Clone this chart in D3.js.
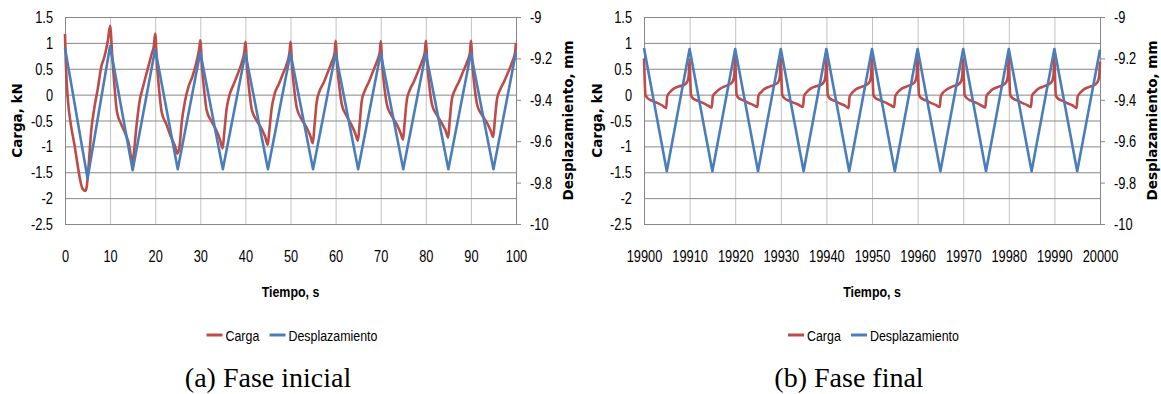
<!DOCTYPE html>
<html>
<head>
<meta charset="utf-8">
<script src="https://cdn.jsdelivr.net/npm/d3@7"></script>
<style>
  body { margin: 0; background: #fff; }
</style>
</head>
<body>
<svg id="chart" width="1161" height="394"></svg>
<script>
// ---- Data ----
const cargaTicks = [-2.5, -2, -1.5, -1, -0.5, 0, 0.5, 1, 1.5];
const despTicks = [-10, -9.8, -9.6, -9.4, -9.2, -9];
const tiempoTicksA = [0, 10, 20, 30, 40, 50, 60, 70, 80, 90, 100];
const tiempoTicksB = [19900, 19910, 19920, 19930, 19940, 19950, 19960, 19970, 19980, 19990, 20000];

// (a) Fase inicial - desplazamiento (mm, right axis)
const tDespA = [0, 5, 10, 15, 20, 25, 30, 35, 40, 45, 50, 55, 60, 65, 70, 75, 80, 85, 90, 95, 100];
const despA = [-9.15, -9.78, -9.14, -9.74, -9.155, -9.735, -9.17, -9.735, -9.175, -9.735, -9.175,
               -9.735, -9.175, -9.735, -9.175, -9.735, -9.175, -9.735, -9.175, -9.735, -9.17];

// (a) Fase inicial - carga (kN, left axis)
const tCargaA = [
  0, 0.2, 0.6, 1.3, 2.1, 2.8, 3.3, 3.9, 4.5, 4.8, 5.3, 5.8, 6.5, 7.3, 8.0, 8.8, 9.5,
  10, 10.5, 11, 11.5, 12.5, 13.5, 14.2, 14.7, 14.95, 15.3, 15.8, 16.6, 17.3, 18.2, 19.2, 19.7,
  20, 20.4, 20.9, 21.4, 22.5, 23.6, 24.4, 24.9, 25.4, 25.9, 26.6, 27.4, 28.3, 29.2, 29.8,
  30, 30.4, 30.9, 31.4, 32.5, 33.6, 34.4, 34.95, 35.3, 35.8, 36.5, 37.4, 38.3, 39.2, 39.8,
  40, 40.4, 40.9, 41.4, 42.5, 43.6, 44.4, 44.95, 45.3, 45.8, 46.5, 47.4, 48.3, 49.2, 49.8,
  50, 50.4, 50.9, 51.4, 52.5, 53.6, 54.4, 54.95, 55.3, 55.8, 56.5, 57.4, 58.3, 59.2, 59.8,
  60, 60.4, 60.9, 61.4, 62.5, 63.6, 64.4, 64.95, 65.3, 65.8, 66.5, 67.4, 68.3, 69.2, 69.8,
  70, 70.4, 70.9, 71.4, 72.5, 73.6, 74.4, 74.95, 75.3, 75.8, 76.5, 77.4, 78.3, 79.2, 79.8,
  80, 80.4, 80.9, 81.4, 82.5, 83.6, 84.4, 84.95, 85.3, 85.8, 86.5, 87.4, 88.3, 89.2, 89.8,
  90, 90.4, 90.9, 91.4, 92.5, 93.6, 94.4, 94.95, 95.3, 95.8, 96.5, 97.4, 98.3, 99.2, 99.8,
  100];
const cargaA = [
  1.17, 0.58, -0.06, -0.58, -0.97, -1.36, -1.62, -1.82, -1.86, -1.79, -1.3, -0.71, -0.26, 0.13, 0.52, 0.75, 1.04,
  1.33, 0.71, 0.13, -0.32, -0.58, -0.78, -0.97, -1.23, -1.3, -1.1, -0.65, -0.1, 0.15, 0.45, 0.78, 0.94,
  1.18, 0.58, 0.06, -0.32, -0.58, -0.84, -1.0, -1.14, -1.0, -0.52, -0.13, 0.16, 0.36, 0.65, 0.91,
  1.05, 0.5, 0.05, -0.3, -0.52, -0.7, -0.88, -1.04, -0.75, -0.3, 0.0, 0.2, 0.4, 0.62, 0.85,
  1.02, 0.48, 0.04, -0.28, -0.5, -0.66, -0.82, -0.97, -0.7, -0.28, 0.02, 0.2, 0.4, 0.6, 0.83,
  1.02, 0.48, 0.05, -0.26, -0.48, -0.64, -0.8, -0.94, -0.62, -0.15, 0.08, 0.24, 0.44, 0.64, 0.82,
  1.04, 0.5, 0.1, -0.2, -0.42, -0.6, -0.76, -0.89, -0.6, -0.12, 0.08, 0.25, 0.45, 0.65, 0.83,
  1.03, 0.5, 0.08, -0.2, -0.42, -0.58, -0.74, -0.87, -0.55, -0.1, 0.1, 0.26, 0.45, 0.65, 0.83,
  1.04, 0.5, 0.08, -0.2, -0.4, -0.56, -0.7, -0.83, -0.5, -0.08, 0.1, 0.26, 0.45, 0.64, 0.82,
  1.04, 0.5, 0.08, -0.2, -0.4, -0.55, -0.7, -0.82, -0.5, -0.08, 0.1, 0.26, 0.44, 0.64, 0.82,
  1.0];

// (b) Fase final - desplazamiento (mm, right axis)
const tDespB = [19900, 19905, 19910, 19915, 19920, 19925, 19930, 19935, 19940, 19945, 19950,
                19955, 19960, 19965, 19970, 19975, 19980, 19985, 19990, 19995, 20000];
const despB = [-9.15, -9.745, -9.155, -9.745, -9.155, -9.745, -9.155, -9.745, -9.155, -9.745, -9.155,
               -9.745, -9.155, -9.745, -9.155, -9.745, -9.155, -9.745, -9.155, -9.745, -9.158];

// (b) Fase final - carga (kN, left axis)
const tCargaB = [
  19900, 19900.15, 19900.3, 19900.7, 19901.8, 19902.9, 19904, 19904.85, 19905.1, 19905.7, 19906.6, 19907.7, 19908.8, 19909.5, 19909.8,
  19910, 19910.15, 19910.3, 19910.7, 19911.8, 19912.9, 19914, 19914.85, 19915.1, 19915.7, 19916.6, 19917.7, 19918.8, 19919.5, 19919.8,
  19920, 19920.15, 19920.3, 19920.7, 19921.8, 19922.9, 19924, 19924.85, 19925.1, 19925.7, 19926.6, 19927.7, 19928.8, 19929.5, 19929.8,
  19930, 19930.15, 19930.3, 19930.7, 19931.8, 19932.9, 19934, 19934.85, 19935.1, 19935.7, 19936.6, 19937.7, 19938.8, 19939.5, 19939.8,
  19940, 19940.15, 19940.3, 19940.7, 19941.8, 19942.9, 19944, 19944.85, 19945.1, 19945.7, 19946.6, 19947.7, 19948.8, 19949.5, 19949.8,
  19950, 19950.15, 19950.3, 19950.7, 19951.8, 19952.9, 19954, 19954.85, 19955.1, 19955.7, 19956.6, 19957.7, 19958.8, 19959.5, 19959.8,
  19960, 19960.15, 19960.3, 19960.7, 19961.8, 19962.9, 19964, 19964.85, 19965.1, 19965.7, 19966.6, 19967.7, 19968.8, 19969.5, 19969.8,
  19970, 19970.15, 19970.3, 19970.7, 19971.8, 19972.9, 19974, 19974.85, 19975.1, 19975.7, 19976.6, 19977.7, 19978.8, 19979.5, 19979.8,
  19980, 19980.15, 19980.3, 19980.7, 19981.8, 19982.9, 19984, 19984.85, 19985.1, 19985.7, 19986.6, 19987.7, 19988.8, 19989.5, 19989.8,
  19990, 19990.15, 19990.3, 19990.7, 19991.8, 19992.9, 19994, 19994.85, 19995.1, 19995.7, 19996.6, 19997.7, 19998.8, 19999.5, 19999.8,
  20000];
const cargaB = [
  0.70, 0.3, 0.0, -0.06, -0.12, -0.16, -0.21, -0.26, -0.03, 0.05, 0.12, 0.16, 0.19, 0.25, 0.36,
  0.68, 0.3, -0.01, -0.07, -0.12, -0.16, -0.21, -0.25, -0.03, 0.04, 0.11, 0.16, 0.2, 0.26, 0.38,
  0.74, 0.3, 0.0, -0.06, -0.11, -0.16, -0.2, -0.24, -0.02, 0.05, 0.12, 0.16, 0.2, 0.25, 0.36,
  0.71, 0.3, 0.0, -0.06, -0.12, -0.16, -0.2, -0.24, -0.03, 0.05, 0.12, 0.16, 0.19, 0.25, 0.36,
  0.70, 0.3, -0.01, -0.07, -0.12, -0.17, -0.21, -0.26, -0.04, 0.04, 0.11, 0.15, 0.19, 0.25, 0.37,
  0.72, 0.3, 0.0, -0.06, -0.11, -0.15, -0.2, -0.24, -0.03, 0.05, 0.12, 0.16, 0.2, 0.26, 0.37,
  0.73, 0.3, 0.0, -0.06, -0.11, -0.16, -0.2, -0.24, -0.03, 0.05, 0.11, 0.16, 0.19, 0.25, 0.36,
  0.70, 0.3, 0.0, -0.06, -0.12, -0.16, -0.21, -0.25, -0.03, 0.04, 0.11, 0.15, 0.19, 0.25, 0.36,
  0.73, 0.3, 0.0, -0.06, -0.11, -0.16, -0.2, -0.24, -0.02, 0.05, 0.12, 0.16, 0.2, 0.26, 0.37,
  0.72, 0.3, -0.01, -0.07, -0.12, -0.17, -0.21, -0.26, -0.04, 0.04, 0.11, 0.15, 0.19, 0.25, 0.35,
  0.64];

// ---- Drawing ----
const RED = "#be4b48", BLUE = "#4a7ebb";
const svg = d3.select("#chart");
const plotTop = 17, innerHeight = 207;
const sansFont = '"Liberation Sans", Arial, sans-serif';
const SX = 0.8; // horizontal squeeze to mimic the narrow chart font

// squeeze texts horizontally via textLength (anchor stays in place)
function condense(sel) {
  sel.each(function() {
    const len = this.getComputedTextLength();
    d3.select(this).attr("textLength", (len * SX).toFixed(1)).attr("lengthAdjust", "spacingAndGlyphs");
  });
}

function drawPanel(cfg) {
  const w = cfg.width, h = innerHeight;
  const g = svg.append("g").attr("transform", `translate(${cfg.left},${plotTop})`);

  const x = d3.scaleLinear().domain(d3.extent(cfg.xTicks)).range([0, w]);
  const yL = d3.scaleLinear().domain([-2.5, 1.5]).range([h, 0]);
  const yR = d3.scaleLinear().domain([-10, -9]).range([h, 0]);

  // vertical gridlines (light)
  const vg = g.append("g").attr("transform", `translate(0,${h})`)
    .call(d3.axisBottom(x).tickValues(cfg.xTicks).tickSize(-h).tickFormat(""));
  vg.select(".domain").remove();
  vg.selectAll("line").attr("stroke", "#c3c3c3");

  // horizontal gridlines (darker)
  const hg = g.append("g")
    .call(d3.axisLeft(yL).tickValues(cargaTicks).tickSize(-w).tickFormat(""));
  hg.select(".domain").remove();
  hg.selectAll("line").attr("stroke", "#878787");

  // left axis line
  g.append("line").attr("x1", 0.5).attr("x2", 0.5).attr("y1", 0).attr("y2", h).attr("stroke", "#878787");

  // left tick labels
  const la = g.append("g").call(d3.axisLeft(yL).tickValues(cargaTicks).tickSize(0).tickPadding(12).tickFormat(d => String(d)));
  la.select(".domain").remove();
  la.attr("font-family", sansFont).attr("font-size", 16);
  la.selectAll("text").attr("fill", "#000").attr("dy", null).attr("y", 5.5).call(condense);

  // right axis with outward ticks
  const ra = g.append("g").attr("transform", `translate(${w},0)`)
    .call(d3.axisRight(yR).tickValues(despTicks).tickSize(5).tickPadding(9).tickFormat(d => String(d)));
  ra.select(".domain").attr("stroke", "#878787");
  ra.selectAll("line").attr("stroke", "#878787");
  ra.attr("font-family", sansFont).attr("font-size", 16);
  ra.selectAll("text").attr("fill", "#000").attr("dy", null).attr("y", 5.5).call(condense);

  // bottom tick labels
  const ba = g.append("g").attr("transform", `translate(0,${h})`)
    .call(d3.axisBottom(x).tickValues(cfg.xTicks).tickSize(0).tickPadding(27).tickFormat(d => String(d)));
  ba.select(".domain").attr("stroke", "#878787");
  ba.attr("font-family", sansFont).attr("font-size", 16);
  ba.selectAll("text").attr("fill", "#000").call(condense);

  // series
  const cargaData = cfg.tCarga.map((t, i) => [t, cfg.carga[i]]);
  const despData = cfg.tDesp.map((t, i) => [t, cfg.desp[i]]);

  g.append("path").datum(cargaData)
    .attr("fill", "none").attr("stroke", RED).attr("stroke-width", 2.6)
    .attr("stroke-linejoin", "round")
    .attr("d", d3.line().x(d => x(d[0])).y(d => yL(d[1])).curve(d3.curveMonotoneX));

  g.append("path").datum(despData)
    .attr("fill", "none").attr("stroke", BLUE).attr("stroke-width", 2.6)
    .attr("stroke-linejoin", "round")
    .attr("d", d3.line().x(d => x(d[0])).y(d => yR(d[1])));

  // axis titles
  g.append("text")
    .attr("transform", `translate(${-cfg.left + cfg.leftTitleX + 5},${h / 2}) rotate(-90)`)
    .attr("text-anchor", "middle")
    .attr("font-family", "DejaVu Sans, sans-serif").attr("font-weight", "bold").attr("font-size", 13.5)
    .text("Carga, kN");

  g.append("text")
    .attr("transform", `translate(${w + 57},${h / 2}) rotate(-90)`)
    .attr("text-anchor", "middle")
    .attr("font-family", "DejaVu Sans, sans-serif").attr("font-weight", "bold").attr("font-size", 13.5)
    .text("Desplazamiento, mm");

  g.append("text")
    .attr("x", w / 2).attr("y", 297 - plotTop)
    .attr("text-anchor", "middle")
    .attr("font-family", sansFont).attr("font-weight", "bold").attr("font-size", 15.5)
    .text("Tiempo, s")
    .call(condense);

  // legend
  const legY = 335 - plotTop;
  const leg = g.append("g").attr("transform", `translate(${w / 2 - 84},${legY})`);
  [["Carga", RED, 0], ["Desplazamiento", BLUE, 63]].forEach(([label, color, dx]) => {
    leg.append("line").attr("x1", dx).attr("x2", dx + 16).attr("y1", 0).attr("y2", 0)
      .attr("stroke", color).attr("stroke-width", 3);
    leg.append("text").attr("x", dx + 19).attr("y", 5.5)
      .attr("font-family", sansFont).attr("font-size", 15.5)
      .text(label)
      .call(condense);
  });

  // caption
  svg.append("text")
    .attr("x", cfg.captionX).attr("y", 387)
    .attr("text-anchor", "middle")
    .attr("font-family", "Liberation Serif, Times New Roman, serif").attr("font-size", 28)
    .text(cfg.caption);
}

drawPanel({
  left: 65, width: 451, leftTitleX: 17, captionX: 268,
  xTicks: tiempoTicksA, tCarga: tCargaA, carga: cargaA, tDesp: tDespA, desp: despA,
  caption: "(a) Fase inicial"
});

drawPanel({
  left: 644, width: 456, leftTitleX: 597, captionX: 849,
  xTicks: tiempoTicksB, tCarga: tCargaB, carga: cargaB, tDesp: tDespB, desp: despB,
  caption: "(b) Fase final"
});
</script>
</body>
</html>
